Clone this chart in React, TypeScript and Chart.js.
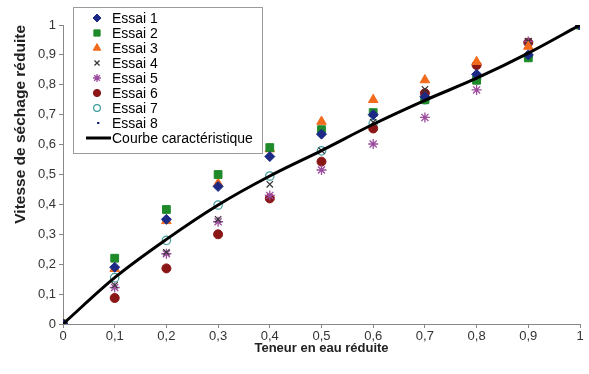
import React, { useEffect, useRef } from 'react';
import { Chart, registerables } from 'chart.js';
import { drawPoint } from 'chart.js/helpers';

Chart.register(...registerables);

const teneur = [0, 0.1, 0.2, 0.3, 0.4, 0.5, 0.6, 0.7, 0.8, 0.9, 1];
const essai1 = [0, 0.19, 0.35, 0.46, 0.56, 0.635, 0.7, 0.76, 0.835, 0.9, 1];
const essai2 = [0, 0.22, 0.383, 0.5, 0.59, 0.65, 0.707, 0.75, 0.815, 0.89, 1];
const essai3 = [0, 0.185, 0.345, 0.47, 0.585, 0.677, 0.75, 0.816, 0.877, 0.928, 1];
const essai4 = [0, 0.13, 0.24, 0.35, 0.467, 0.58, 0.675, 0.785, 0.83, 0.945, 1];
const essai5 = [0, 0.122, 0.235, 0.342, 0.43, 0.515, 0.602, 0.691, 0.783, 0.945, 1];
const essai6 = [0, 0.087, 0.186, 0.3, 0.42, 0.543, 0.654, 0.772, 0.866, 0.941, 1];
const essai7 = [0, 0.155, 0.28, 0.398, 0.495, 0.579, 0.671, 0.75, 0.82, 0.895, 1];
const essai8 = [0, 0.155, 0.283, 0.398, 0.495, 0.58, 0.668, 0.748, 0.822, 0.906, 1];
const courbe = [0, 0.155, 0.283, 0.398, 0.495, 0.58, 0.668, 0.748, 0.822, 0.906, 1];
const xTicks = [0, 0.1, 0.2, 0.3, 0.4, 0.5, 0.6, 0.7, 0.8, 0.9, 1];

const pts = (ys: number[]) => ys.map((y, i) => ({ x: teneur[i], y }));
const fmt = (v: number) => (v === 0 ? '0' : v === 1 ? '1' : v.toFixed(1).replace('.', ','));

const legendPlugin = {
  id: 'boxLegend',
  afterDraw(chart: any) {
    const ctx = chart.ctx;
    ctx.save();
    const x0 = 73, y0 = 7, w = 189, h = 146;
    ctx.fillStyle = '#fff';
    ctx.fillRect(x0, y0, w, h);
    ctx.strokeStyle = '#9a9a9a';
    ctx.lineWidth = 1;
    ctx.strokeRect(x0 + 0.5, y0 + 0.5, w, h);
    ctx.font = '14px "Liberation Sans", Arial, sans-serif';
    ctx.textBaseline = 'middle';
    ctx.textAlign = 'left';
    chart.data.datasets.forEach((ds: any, i: number) => {
      const cy = 18 + i * 15;
      if (ds.type === 'line') {
        ctx.strokeStyle = ds.borderColor;
        ctx.lineWidth = 3;
        ctx.beginPath();
        ctx.moveTo(86, cy);
        ctx.lineTo(111, cy);
        ctx.stroke();
      } else {
        ctx.fillStyle = ds.pointBackgroundColor;
        ctx.strokeStyle = ds.pointBorderColor;
        ctx.lineWidth = ds.pointBorderWidth;
        drawPoint(ctx, { pointStyle: ds.pointStyle, radius: ds.pointRadius * 0.8, borderWidth: ds.pointBorderWidth, rotation: 0 }, 97, cy);
      }
      ctx.fillStyle = '#000';
      ctx.fillText(ds.label, 112, cy + 1);
    });
    ctx.restore();
  },
};

export default function App() {
  const ref = useRef<HTMLCanvasElement>(null);
  useEffect(() => {
    document.body.style.margin = '0';
    const sc = (label: string, ys: number[], style: string, color: string, r: number, bw = 1, fill?: string) => ({
      type: 'scatter' as const,
      label,
      data: pts(ys),
      pointStyle: style,
      pointRadius: r,
      pointBackgroundColor: fill ?? color,
      pointBorderColor: color,
      pointBorderWidth: bw,
      showLine: false,
      order: 1,
    });
    const chart = new Chart(ref.current!, {
      type: 'scatter',
      data: {
        datasets: [
          sc('Essai 1', essai1, 'rectRot', '#1c2a86', 5),
          sc('Essai 2', essai2, 'rect', '#1f8a2a', 5.5),
          sc('Essai 3', essai3, 'triangle', '#f26a1b', 5.5),
          sc('Essai 4', essai4, 'crossRot', '#333333', 4.5, 1.2),
          sc('Essai 5', essai5, 'star', '#9b4c9e', 5, 1.3),
          sc('Essai 6', essai6, 'circle', '#8a1616', 4.5),
          sc('Essai 7', essai7, 'circle', '#3f9c9c', 4.2, 1.2, '#ffffff'),
          sc('Essai 8', essai8, 'dash', '#1c2a86', 3, 2),
          {
            type: 'line' as const,
            label: 'Courbe caractéristique',
            data: pts(courbe),
            borderColor: '#000000',
            borderWidth: 3,
            pointRadius: 0,
            cubicInterpolationMode: 'monotone',
            fill: false,
            order: 0,
          } as any,
        ],
      },
      options: {
        animation: false,
        responsive: false,
        maintainAspectRatio: false,
        layout: { padding: { top: 25, right: 9, left: 0, bottom: 18 } },
        plugins: { legend: { display: false }, tooltip: { enabled: false } },
        scales: {
          x: {
            type: 'linear',
            min: 0,
            max: 1,
            afterBuildTicks: (s: any) => { s.ticks = xTicks.map((v) => ({ value: v })); },
            afterFit: (s: any) => { s.height = 32; },
            ticks: { callback: (v: any) => fmt(Number(v)), color: '#333', font: { size: 13, family: '"Liberation Sans", Arial' }, padding: 1, maxRotation: 0 },
            grid: { drawOnChartArea: false, drawTicks: true, tickLength: 4, color: '#888' },
            border: { display: true, color: '#888' },
            title: { display: true, text: 'Teneur en eau réduite', color: '#222', font: { size: 13, weight: 'bold', family: '"Liberation Sans", Arial' }, padding: { top: 1, bottom: 0 } },
          },
          y: {
            type: 'linear',
            min: 0,
            max: 1,
            afterBuildTicks: (s: any) => { s.ticks = xTicks.map((v) => ({ value: v })); },
            afterFit: (s: any) => { s.width = 63; },
            ticks: { callback: (v: any) => fmt(Number(v)), color: '#333', font: { size: 13, family: '"Liberation Sans", Arial' }, padding: 3 },
            grid: { drawOnChartArea: false, drawTicks: true, tickLength: 4, color: '#888' },
            border: { display: true, color: '#888' },
            title: { display: true, text: 'Vitesse de séchage réduite', align: 'end', color: '#222', font: { size: 15.5, weight: 'bold', family: '"Liberation Sans", Arial' }, padding: { top: 11, bottom: 0 } },
          },
        },
      } as any,
      plugins: [legendPlugin],
    });
    return () => chart.destroy();
  }, []);
  return (
    <div style={{ width: 589, height: 374 }}>
      <canvas ref={ref} width={589} height={374} style={{ width: 589, height: 374, display: 'block' }} />
    </div>
  );
}
